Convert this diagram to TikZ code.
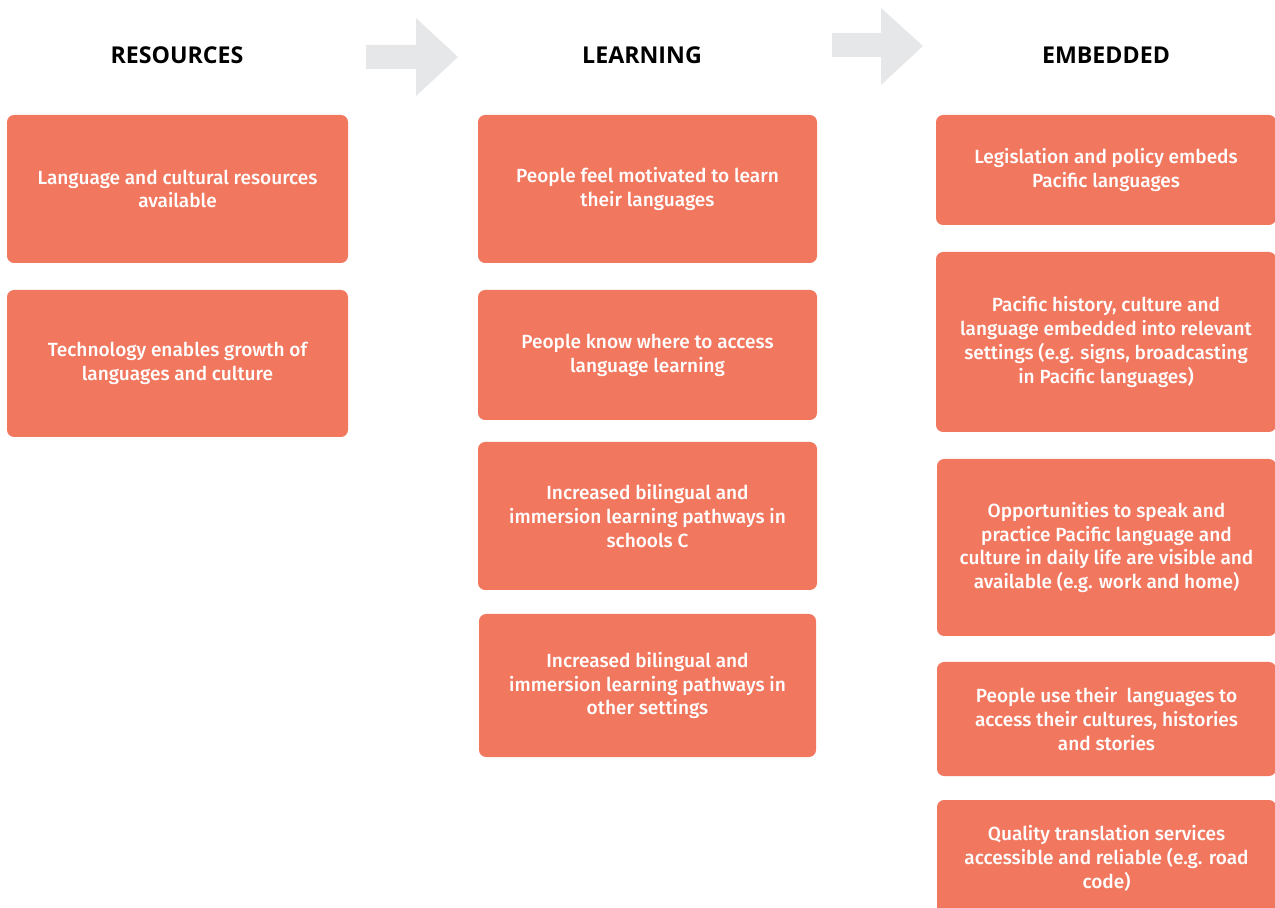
\documentclass[tikz,border=0pt]{standalone}
\usepackage{fontspec}
\setmainfont{Fira Sans}[UprightFont=* Medium, BoldFont=* Bold]
\newfontfamily\headfont{Open Sans}
\definecolor{goalorange}{HTML}{F2775F}
\definecolor{arrowgrey}{HTML}{E6E7E8}
\tikzset{
    goalbox/.style={fill=goalorange, rounded corners=4pt, text=white, align=center,
        inner sep=0pt, font=\fontsize{10.85}{13.6}\selectfont},
    colhead/.style={font=\headfont\bfseries\fontsize{13.2}{14}\selectfont, inner sep=0pt},
}
\begin{document}
\begin{tikzpicture}[x=0.02cm, y=-0.02cm]
            \useasboundingbox (0, 0) rectangle (1275, 908);
            \clip (0, 0) rectangle (1275, 908);
            % column headings
            \node[colhead] (reshead) at (177, 55) {RESOURCES};
            \node[colhead] (learnhead) at (642, 55) {LEARNING};
            \node[colhead] (embhead) at (1106, 55) {EMBEDDED};
            % big grey arrows
            \fill[arrowgrey] (366, 45) -- (416, 45) -- (416, 18) -- (458, 57) -- (416, 96) -- (416, 69) -- (366, 69) -- cycle;
            \fill[arrowgrey] (832, 33) -- (881, 33) -- (881, 8) -- (923, 46) -- (881, 85) -- (881, 57) -- (832, 57) -- cycle;
            % resources
            \node[goalbox, minimum width=341*0.02cm, minimum height=148*0.02cm] (res1) at (177.5, 189) {Language and cultural resources\\available};
            \node[goalbox, minimum width=341*0.02cm, minimum height=147*0.02cm] (res2) at (177.5, 363.5) {Technology enables growth of\\languages and culture};
            % learning
            \node[goalbox, minimum width=339*0.02cm, minimum height=148*0.02cm] (learn1) at (647.5, 189) {People feel motivated to learn\\their languages};
            \node[goalbox, minimum width=339*0.02cm, minimum height=130*0.02cm] (learn2) at (647.5, 355) {People know where to access\\language learning};
            \node[goalbox, minimum width=339*0.02cm, minimum height=148*0.02cm] (learn3) at (647.5, 516) {Increased bilingual and\\immersion learning pathways in\\schools C};
            \node[goalbox, minimum width=337*0.02cm, minimum height=143*0.02cm] (learn4) at (647.5, 685.5) {Increased bilingual and\\immersion learning pathways in\\other settings};
            % embedded
            \node[goalbox, minimum width=340*0.02cm, minimum height=110*0.02cm] (emb1) at (1106, 170) {Legislation and policy embeds\\Pacific languages};
            \node[goalbox, minimum width=340*0.02cm, minimum height=180*0.02cm] (emb2) at (1106, 342) {Pacific history, culture and\\language embedded into relevant\\settings (e.g. signs, broadcasting\\in Pacific languages)};
            \node[goalbox, minimum width=339*0.02cm, minimum height=177*0.02cm] (emb3) at (1106.5, 547.5) {Opportunities to speak and\\practice Pacific language and\\culture in daily life are visible and\\available (e.g. work and home)};
            \node[goalbox, minimum width=339*0.02cm, minimum height=114*0.02cm] (emb4) at (1106.5, 719) {People use their\ \ languages to\\access their cultures, histories\\and stories};
            \node[goalbox, minimum width=339*0.02cm, minimum height=116*0.02cm] (emb5) at (1106.5, 858) {Quality translation services\\accessible and reliable (e.g. road\\code)};
        \end{tikzpicture}
\end{document}
